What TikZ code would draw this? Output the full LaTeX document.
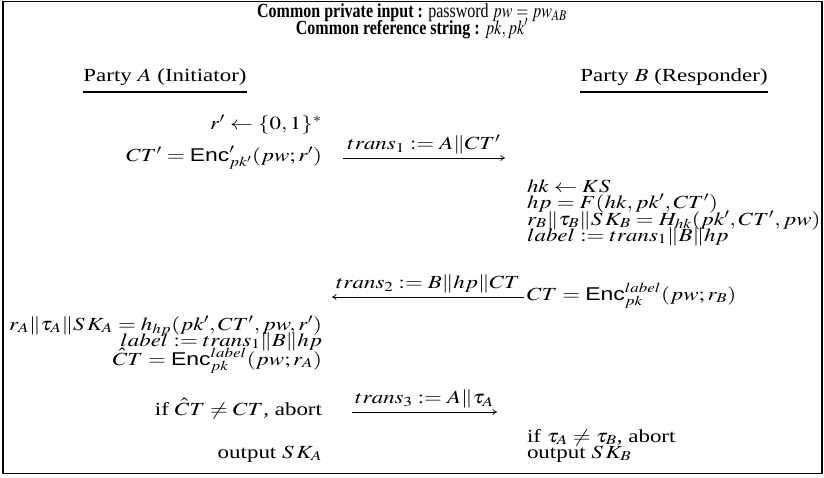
\documentclass[tikz,border=0pt]{standalone}
\usepackage{mathptmx}
\usepackage{graphicx}
\usepackage{fontspec}
\setmainfont{Liberation Serif}
\setsansfont{Liberation Sans}
\usetikzlibrary{calc,arrows.meta}
\newcommand{\Enc}{\textsf{Enc}}
% body text is set wide, the heading narrow
\newcommand{\wide}[1]{\scalebox{1.24}[1]{#1}}
\newcommand{\narrow}[1]{\scalebox{0.8}[1]{#1}}
\begin{document}
\begin{tikzpicture}[x=1pt,y=-1pt,
  font=\fontsize{18.5}{20}\selectfont,
  every node/.style={inner sep=0pt, outer sep=0pt},
  lft/.style={anchor=base east},
  rgt/.style={anchor=base west},
  ctr/.style={anchor=base},
  headline/.style={anchor=base, font=\fontsize{20}{22}\selectfont},
  msg/.style={-{To[length=4.5pt,width=6pt]}, line width=0.7pt},
  msglabel/.style={anchor=south, yshift=4pt},
  frame/.style={line width=1.4pt},
  rule/.style={line width=1.3pt}]
\useasboundingbox (0,0) rectangle (824,477);
\draw[frame] (3,1.5) rectangle (822,473.5);

% header
\node[headline] (t1) at (412,17) {\narrow{\textbf{Common private input :} password $pw = pw_{AB}$}};
\node[headline] (t2) at (412,34) {\narrow{\textbf{Common reference string :} $pk, pk'$}};

% parties
\node[ctr] (pa) at (165,81) {\wide{Party $A$ (Initiator)}};
\node[ctr] (pb) at (674,81) {\wide{Party $B$ (Responder)}};
\draw[rule] (pa.west |- 0,92) -- (pa.east |- 0,92);
\draw[rule] (pb.west |- 0,92) -- (pb.east |- 0,92);

% party A, first move
\node[lft] (a1) at (322,129) {\wide{$r' \leftarrow \{0,1\}^*$}};
\node[lft] (a2) at (322,161) {\wide{$CT' = \Enc'_{pk'}(pw; r')$}};

% message 1
\coordinate (m1s) at (343,158);
\coordinate (m1e) at (505,158);
\draw[msg] (m1s) -- (m1e);
\node[msglabel] (l1) at ($(m1s)!0.5!(m1e)$) {\wide{$trans_1 := A\|CT'$}};

% party B
\node[rgt] (b1) at (527,192) {\wide{$hk \leftarrow KS$}};
\node[rgt] (b2) at (527,208) {\wide{$hp = F(hk, pk', CT')$}};
\node[rgt] (b3) at (527,225) {\wide{$r_B\|\tau_B\|S\,K_B = H_{hk}(pk', CT', pw)$}};
\node[rgt] (b4) at (527,241) {\wide{$label := trans_1\|B\|hp$}};
\node[rgt] (b5) at (527,300) {\wide{$CT = \Enc^{label}_{pk}(pw; r_B)$}};

% message 2
\coordinate (m2s) at (524,297);
\coordinate (m2e) at (332,297);
\draw[msg] (m2s) -- (m2e);
\node[msglabel] (l2) at ($(m2s)!0.5!(m2e)$) {\wide{$trans_2 := B\|hp\|CT$}};

% party A, second move
\node[lft] (a3) at (322,330) {\wide{$r_A\|\tau_A\|S\,K_A = h_{hp}(pk', CT', pw, r')$}};
\node[lft] (a4) at (322,346) {\wide{$label := trans_1\|B\|hp$}};
\node[lft] (a5) at (322,365) {\wide{$\hat{C}T = \Enc^{label}_{pk}(pw; r_A)$}};
\node[lft] (a6) at (322,415) {\wide{if $\hat{C}T \neq CT$, abort}};

% message 3
\coordinate (m3s) at (352,412);
\coordinate (m3e) at (497,412);
\draw[msg] (m3s) -- (m3e);
\node[msglabel] (l3) at ($(m3s)!0.5!(m3e)$) {\wide{$trans_3 := A\|\tau_A$}};

% outputs
\node[rgt] (b6) at (527,442) {\wide{if $\tau_A \neq \tau_B$, abort}};
\node[rgt] (b7) at (527,458) {\wide{output $S\,K_B$}};
\node[lft] (a7) at (322,458) {\wide{output $S\,K_A$}};
\end{tikzpicture}
\end{document}
